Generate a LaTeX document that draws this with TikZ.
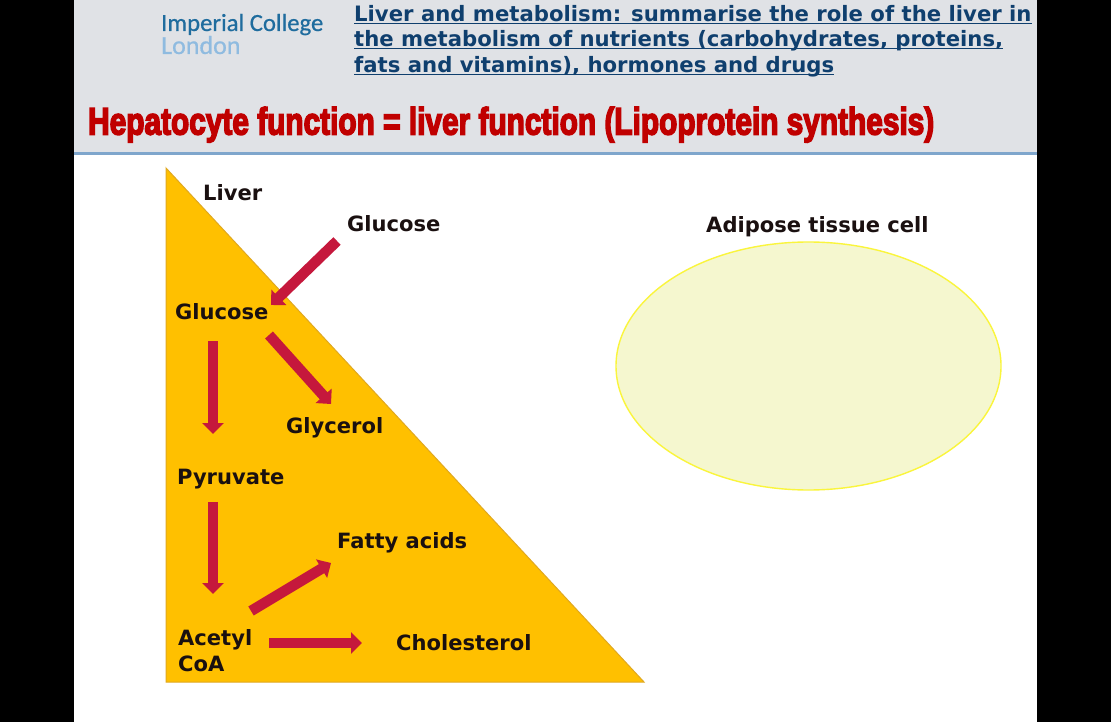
\documentclass[tikz,border=0pt]{standalone}
\usepackage{fontspec}
\setmainfont{DejaVu Sans}
\newfontfamily\logofont[FakeBold=0.6]{Carlito}
\newfontfamily\impfont[FakeBold=4.5]{Liberation Sans}
\usetikzlibrary{arrows.meta}
\definecolor{panel}{HTML}{E0E2E6}
\definecolor{rulec}{HTML}{7FA6CC}
\definecolor{navy}{HTML}{0F3F6E}
\definecolor{logoA}{HTML}{1F6C9E}
\definecolor{logoB}{HTML}{8FBBE0}
\definecolor{titlec}{HTML}{C00000}
\definecolor{liver}{HTML}{FFC000}
\definecolor{liveredge}{HTML}{E0A820}
\definecolor{flowc}{HTML}{C5183C}
\definecolor{cellfill}{HTML}{F5F7CF}
\definecolor{celledge}{HTML}{FAF53C}
\definecolor{ink}{HTML}{1A1010}
\tikzset{
  x=1pt,y=-1pt,
  lbl/.style={font=\fontsize{21.05}{24}\selectfont\bfseries,text=ink,inner sep=0pt,anchor=base west,align=left},
  head/.style={font=\fontsize{21.2}{24}\selectfont\bfseries,text=navy,inner sep=0pt,anchor=base west},
  flow/.style={draw=flowc,line width=10.5pt,-{Triangle[length=11pt,width=21pt]}},
}
\newcommand{\ulx}[1]{\underline{\smash{#1}}}
\begin{document}
\begin{tikzpicture}
\useasboundingbox (0,0) rectangle (1111,722);
\fill[black] (0,0) rectangle (1111,722);
\fill[white] (74,0) rectangle (1037,722);
\fill[panel] (74,0) rectangle (1037,152);
\fill[rulec] (74,152) rectangle (1037,155);
% logo
\node[font=\logofont\fontsize{24.7}{25}\selectfont,text=logoA,inner sep=0pt,anchor=base west] (logoa) at (161,31) {Imperial College};
\node[font=\logofont\fontsize{26}{25}\selectfont,text=logoB,inner sep=0pt,anchor=base west] (logob) at (161,54) {\smash{London}};
% heading
\node[head] (h1) at (354,21.5) {\ulx{Liver and metabolism: summarise the role of the liver in}};
\node[head] (h2) at (354,46.5) {\ulx{the metabolism of nutrients (carbohydrates, proteins,}};
\node[head] (h3) at (354,73) {\ulx{fats and vitamins), hormones and drugs}};
% title
\node[font=\impfont\fontsize{38}{38}\selectfont\bfseries,text=titlec,inner sep=0pt,anchor=base west,xscale=0.785] (title) at (88,134.5) {Hepatocyte function = liver function (Lipoprotein synthesis)};
% liver
\draw[fill=liver,draw=liveredge,line width=1pt] (166,168) -- (644,682) -- (166,682) -- cycle;
\node[lbl] (liverlbl) at (203,201) {Liver};
\node[lbl] (gout) at (347,232) {Glucose};
\node[lbl] (gin) at (175,319) {Glucose};
\node[lbl] (glyc) at (286,433) {Glycerol};
\node[lbl] (pyr) at (177,484) {Pyruvate};
\node[lbl] (fatty) at (337,548) {Fatty acids};
\node[lbl] (acetyl) at (178,645) {Acetyl};
\node[lbl] (coa) at (178,671) {CoA};
\node[lbl] (chol) at (396,650) {Cholesterol};
% adipose
\node[lbl] (adlbl) at (706,233) {Adipose tissue cell};
\draw[draw=celledge,fill=cellfill,line width=1.4pt] (808.5,366) ellipse [x radius=192.5,y radius=124];
% connectors
\coordinate (a1) at (337,241); \coordinate (a2) at (271,305);
\coordinate (b1) at (213,341); \coordinate (b2) at (213,434);
\coordinate (c1) at (269,335); \coordinate (c2) at (331,404);
\coordinate (d1) at (213,502); \coordinate (d2) at (213,594);
\coordinate (e1) at (251,611); \coordinate (e2) at (331,563);
\coordinate (f1) at (269,643); \coordinate (f2) at (362,643);
\draw[flow] (a1) -- (a2);
\draw[flow] (b1) -- (b2);
\draw[flow] (c1) -- (c2);
\draw[flow] (d1) -- (d2);
\draw[flow] (e1) -- (e2);
\draw[flow] (f1) -- (f2);
\end{tikzpicture}
\end{document}
